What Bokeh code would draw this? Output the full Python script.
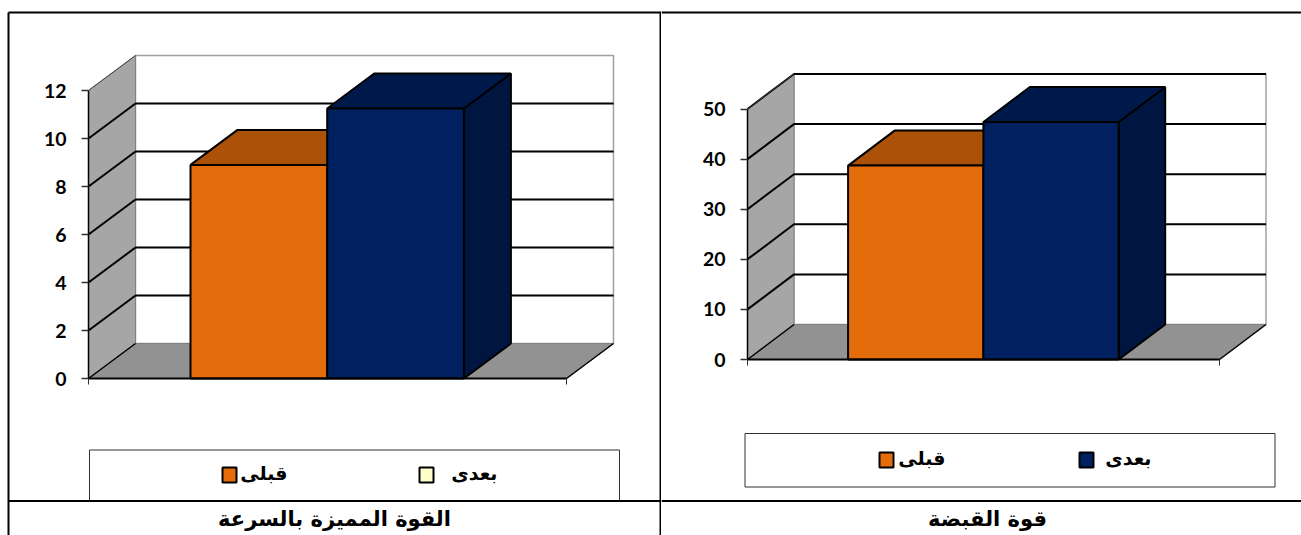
from bokeh.embed import file_html
from bokeh.layouts import row
from bokeh.models import FixedTicker, LinearAxis, Range1d
from bokeh.plotting import figure
from bokeh.resources import INLINE
from bokeh.core.properties import value

# Series labels and measured means for each test
series_labels = ["قبلى", "بعدى"]
speed_title = "القوة المميزة بالسرعة"
speed_values = [8.9, 11.25]
speed_ticks = [0, 2, 4, 6, 8, 10, 12]
grip_title = "قوة القبضة"
grip_values = [38.7, 47.4]
grip_ticks = [0, 10, 20, 30, 40, 50]

ORANGE = ("#E46C0A", "#AB5208", "#AB5208")
NAVY = ("#002060", "#00194B", "#001540")
PALE = "#FFFFCC"
ARABIC = value("DejaVu Sans")
NUMERIC = "Lato"
HEIGHT = 535


def panel(width, values, ticks, title, geo):
    # Linear scales: one bar is one x unit, y is the measured value
    sx, sy = geo["bar_px"], geo["px_per_unit"]
    x0, y0 = geo["centre_px"], geo["base_px"]
    to_x = lambda px: (px - x0) / sx
    to_y = lambda py: (y0 - py) / sy
    dx, dy = geo["depth"][0] / sx, geo["depth"][1] / sy

    p = figure(width=width, height=HEIGHT, output_backend="svg", toolbar_location=None,
               x_range=Range1d(to_x(0), to_x(width)), y_range=Range1d(to_y(HEIGHT), to_y(0)),
               x_axis_type=None, y_axis_type=None, min_border=0, outline_line_color=None,
               background_fill_color="white", border_fill_color="white")
    p.grid.visible = False

    left, right = to_x(geo["left_px"]), to_x(geo["right_px"])
    top = ticks[-1]

    # Back wall, side wall and floor of the 3-D box
    p.patch([left + dx, right + dx, right + dx, left + dx], [dy, dy, top + dy, top + dy],
            fill_color="white", line_color="#A0A0A0", line_width=1.5)
    p.patch([left, left + dx, left + dx, left], [0, dy, top + dy, top],
            fill_color="#A6A6A6", line_color="#808080", line_width=1)
    p.patch([left, right, right + dx, left + dx], [0, 0, dy, dy],
            fill_color="#929292", line_color="#808080", line_width=1)

    # Gridlines run along the side wall and across the back wall
    grid = ticks[1:] if geo["top_rule"] else ticks[1:-1]
    p.multi_line([[left, left + dx, right + dx] for t in grid],
                 [[t, t + dy, t + dy] for t in grid], line_color="black", line_width=2)
    p.line([left, left + dx], [top, top + dy], line_color="#404040", line_width=1)
    p.line([left, left + dx], [0, dy], line_color="black", line_width=1.5)
    p.line([right, right + dx], [0, dy], line_color="black", line_width=1.5)

    # Bars: front face, top face and side face, drawn from the values
    for i, (v, colours) in enumerate(zip(values, (ORANGE, NAVY))):
        a, b = i - 1, i
        p.patch([b, b + dx, b + dx, b], [0, dy, v + dy, v], fill_color=colours[2],
                line_color="black", line_width=2)
        p.patch([a, b, b + dx, a + dx], [v, v, v + dy, v + dy], fill_color=colours[1],
                line_color="black", line_width=2)
        p.quad(left=a, right=b, bottom=0, top=v, fill_color=colours[0],
               line_color="black", line_width=2)
    p.line([left, right], [0, 0], line_color="black", line_width=2)

    # Value axis on the front edge of the side wall
    yaxis = LinearAxis(fixed_location=left, ticker=FixedTicker(ticks=ticks), bounds=(0, top),
                       major_tick_in=0, major_tick_out=7, minor_tick_line_color=None,
                       axis_line_color="black", axis_line_width=1.5,
                       major_tick_line_color="#303030", major_tick_line_width=1.5,
                       major_label_standoff=15, major_label_text_font=NUMERIC,
                       major_label_text_font_style="bold", major_label_text_font_size="19.5px",
                       major_label_text_color="black")
    p.add_layout(yaxis, "left")

    # Category axis: tick marks only, at both ends of the floor
    xaxis = LinearAxis(fixed_location=0, ticker=FixedTicker(ticks=[left, right]),
                       bounds=(left, right), major_tick_in=0, major_tick_out=6,
                       minor_tick_line_color=None, axis_line_color=None,
                       major_tick_line_color="#303030", major_tick_line_width=1,
                       major_label_text_color=None)
    p.add_layout(xaxis, "below")

    # Legend box with swatches and labels
    lx0, lx1, ly0, ly1 = geo["legend_box"]
    p.quad(left=to_x(lx0), right=to_x(lx1), top=to_y(ly0), bottom=to_y(ly1),
           fill_color="white", line_color="#303030", line_width=1)
    for label, sw_px, text_px, fill in zip(series_labels, geo["swatch_px"], geo["label_px"],
                                           geo["swatch_fill"]):
        sy0 = geo["swatch_top"]
        p.quad(left=to_x(sw_px), right=to_x(sw_px + 14), top=to_y(sy0), bottom=to_y(sy0 + 15),
               fill_color=fill, line_color="black", line_width=2)
        p.text(x=[to_x(text_px)], y=[to_y(sy0 + 5)], text=[label], text_font=ARABIC,
               text_font_style="bold", text_font_size="19px", text_color="black",
               text_align="right", text_baseline="middle")

    # Table rules of the page and the caption cell
    for edge in geo["rule_px"]:
        p.line([to_x(edge), to_x(edge)], [to_y(12), to_y(HEIGHT)], line_color="black", line_width=2)
    p.line([to_x(geo["rule_start_px"]), to_x(width)], [to_y(12), to_y(12)],
           line_color="black", line_width=2)
    p.line([to_x(geo["rule_start_px"]), to_x(width)], [to_y(500.5), to_y(500.5)],
           line_color="black", line_width=2)
    p.text(x=[to_x(geo["title_px"])], y=[to_y(518)], text=[title], text_font=ARABIC,
           text_font_style="bold", text_font_size="21px", text_color="black",
           text_align="center", text_baseline="middle")
    return p


speed_panel = panel(661, speed_values, speed_ticks, speed_title, dict(
    bar_px=136.7, px_per_unit=24, centre_px=326.7, base_px=378, left_px=88, right_px=566,
    depth=(47, 35), top_rule=False, legend_box=(89, 619, 449.5, 500),
    swatch_px=(222, 419), swatch_top=467, label_px=(287, 497),
    swatch_fill=(ORANGE[0], PALE), rule_px=(8, 660), rule_start_px=8, title_px=334))

grip_panel = panel(640, grip_values, grip_ticks, grip_title, dict(
    bar_px=135.3, px_per_unit=5.01, centre_px=321.9, base_px=359, left_px=86, right_px=558,
    depth=(46.5, 35), top_rule=True, legend_box=(83.5, 613.5, 433, 486.5),
    swatch_px=(218, 418), swatch_top=452, label_px=(284, 490),
    swatch_fill=(ORANGE[0], NAVY[0]), rule_px=(), rule_start_px=0, title_px=326))

page = row(speed_panel, grip_panel, spacing=0)
open("out.html", "w").write(file_html(page, INLINE))
